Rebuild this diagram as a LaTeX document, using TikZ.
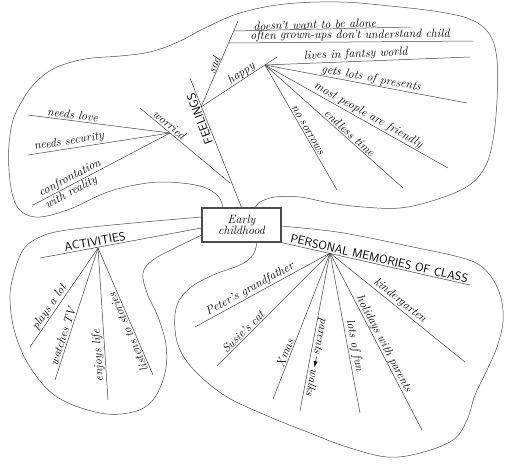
\documentclass[tikz,border=0pt]{standalone}
\usetikzlibrary{arrows.meta}

\begin{document}
\begin{tikzpicture}[x=1pt, y=-1pt,
    branch/.style={draw=black!75, line width=0.5pt},
    bubble/.style={draw=black!70, line width=0.5pt},
    lbl/.style={font=\fontsize{12}{13}\selectfont\itshape, inner sep=1pt, anchor=south},
    headline/.style={font=\fontsize{12}{13}\selectfont\sffamily, inner sep=1pt, anchor=south},
    centre/.style={draw=black!70, line width=1.2pt, minimum width=79pt, minimum height=34pt,
      inner sep=0pt, align=center, font=\fontsize{12}{11}\selectfont\itshape}]
  \useasboundingbox (0,0) rectangle (510,466);

  \node[centre] (box) at (241.5,225) {Early\\childhood};

  \coordinate (f-top) at (190,78);
  \coordinate (f-sad) at (201,107);
  \coordinate (sad-end) at (238,21);
  \coordinate (alone-a) at (234,31);
  \coordinate (alone-b) at (410,27);
  \coordinate (often-a) at (229,43);
  \coordinate (often-b) at (473,41);
  \coordinate (happy) at (265,65);
  \coordinate (happy-end) at (277,57);
  \coordinate (fantasy) at (470,57);
  \coordinate (presents) at (467,103);
  \coordinate (friendly) at (448,168);
  \coordinate (endless) at (403,188);
  \coordinate (sorrows) at (337,190);
  \coordinate (f-worry) at (230,183);
  \coordinate (worry-end) at (140,108);
  \coordinate (worried) at (170,133);
  \coordinate (love) at (28,115);
  \coordinate (security) at (28,155);
  \coordinate (reality) at (33,205);

  \coordinate (act-end) at (40,258);
  \coordinate (act) at (98,248);
  \coordinate (plays) at (30,347);
  \coordinate (tv) at (55,380);
  \coordinate (life) at (108,400);
  \coordinate (stories) at (153,375);

  \coordinate (pers-end) at (470,285);
  \coordinate (pers) at (330,253);
  \coordinate (peter) at (195,327);
  \coordinate (susie) at (217,366);
  \coordinate (xmas) at (273,399);
  \coordinate (walks) at (300,411);
  \coordinate (fun) at (360,413);
  \coordinate (holidays) at (422,430);
  \coordinate (kinder) at (465,362);

  \draw[bubble] plot[smooth, tension=0.6] coordinates {(223,208) (218,196) (200,186) (165,182)
    (135,185) (105,193) (70,209) (40,217) (22,212) (13,197) (9,170) (9,145) (13,120) (22,101)
    (35,83) (55,68) (85,59) (120,56) (150,52) (178,42) (205,28) (240,13) (285,4) (340,2)
    (390,6) (440,12) (472,20) (490,35) (497,60) (497,100) (493,140) (485,167) (468,186)
    (435,200) (400,208) (363,207) (330,203) (300,197) (275,197) (260,202) (255,208)};
  \draw[bubble] plot[smooth, tension=0.6] coordinates {(202,217) (133,223) (67,230) (40,237)
    (23,250) (13,277) (10,300) (15,333) (30,367) (57,397) (100,413) (133,412) (153,400)
    (165,373) (166,345) (158,317) (147,293) (143,273) (153,260) (177,247) (202,235)};
  \draw[bubble] plot[smooth, tension=0.6] coordinates {(281,226) (330,231) (365,237) (413,247)
    (455,256) (478,264) (492,278) (501,298) (503,322) (497,347) (487,370) (475,395) (467,420)
    (453,440) (420,453) (387,457) (347,447) (310,433) (270,417) (227,397) (197,373) (181,352)
    (175,330) (177,305) (190,288) (213,275) (240,265) (253,255) (257,242)};

  \draw[branch] (box.north) -- (f-top);
  \draw[branch] (f-sad) -- (sad-end);
  \draw[branch] (alone-a) -- (alone-b);
  \draw[branch] (often-a) -- (often-b);
  \draw[branch] (f-sad) -- (happy-end);
  \foreach \e in {fantasy,presents,friendly,endless,sorrows}
    \draw[branch] (happy) -- (\e);
  \draw[branch] (worry-end) -- (f-worry);
  \foreach \e in {love,security,reality}
    \draw[branch] (worried) -- (\e);
  \draw[branch] ([yshift=-3pt]box.west) -- (act-end);
  \foreach \e in {plays,tv,life,stories}
    \draw[branch] (act) -- (\e);
  \draw[branch] (box.south east) -- (pers-end);
  \foreach \e in {peter,susie,xmas,walks,fun,holidays,kinder}
    \draw[branch] (pers) -- (\e);

  \node[headline, rotate=111] (t-feel) at (205,117) {FEELINGS};
  \node[lbl, rotate=68] (t-sad) at (219,67) {sad};
  \node[lbl, rotate=34] (t-happy) at (245,79) {happy};
  \node[lbl, rotate=1.6] (t-alone) at (315,30) {doesn't want to be alone};
  \node[lbl, rotate=0.5] (t-often) at (350,42) {often grown-ups don't understand child};
  \node[lbl, rotate=2.2] (t-fantasy) at (356,61) {lives in fantsy world};
  \node[lbl, rotate=-10.7] (t-presents) at (370,85) {gets lots of presents};
  \node[lbl, rotate=-29.4] (t-friendly) at (365,121) {most people are friendly};
  \node[lbl, rotate=-41.7] (t-endless) at (346,137) {endless time};
  \node[lbl, rotate=-60] (t-sorrows) at (304,132) {no sorrows};
  \node[lbl, rotate=-39.2] (t-worried) at (166,129) {worried};
  \node[lbl, rotate=-7.2] (t-love) at (72,120) {needs love};
  \node[lbl, rotate=8.8] (t-security) at (70,148) {needs security};
  \node[lbl, rotate=27.7] (t-confront) at (73,184) {confrontation};
  \node[lbl, rotate=27.7, anchor=north] (t-reality) at (68,187) {with reality};

  \node[headline, rotate=10.5] (t-act) at (96,247) {ACTIVITIES};
  \node[lbl, rotate=55.5] (t-plays) at (55,311) {plays a lot};
  \node[lbl, rotate=72] (t-tv) at (68,338) {watches TV};
  \node[lbl, rotate=93.8] (t-life) at (105,355) {enjoys life};
  \node[lbl, rotate=113.4] (t-stories) at (133,330) {listens to stories};

  \node[headline, rotate=-12.9] (t-pers) at (378,264) {PERSONAL MEMORIES OF CLASS};
  \node[lbl, rotate=28.7] (t-peter) at (253,295) {Peter's grandfather};
  \node[lbl, rotate=44.7] (t-susie) at (247,336) {Susie's cat};
  \node[lbl, rotate=68.5] (t-xmas) at (290,355) {Xmas};
  \node[lbl, rotate=-100.8] (t-walks) at (310,356) {parents\,\tikz[baseline=-3pt]\draw[-{Latex[length=6pt,width=4pt]}, line width=0.5pt] (0pt,0pt) -- (11pt,0pt);\,walks};
  \node[lbl, rotate=-79.3] (t-fun) at (348,347) {lots of fun};
  \node[lbl, rotate=-62.4] (t-holidays) at (378,347) {holidays with parents};
  \node[lbl, rotate=-38.7] (t-kinder) at (396,306) {kindergarten};
\end{tikzpicture}
\end{document}
